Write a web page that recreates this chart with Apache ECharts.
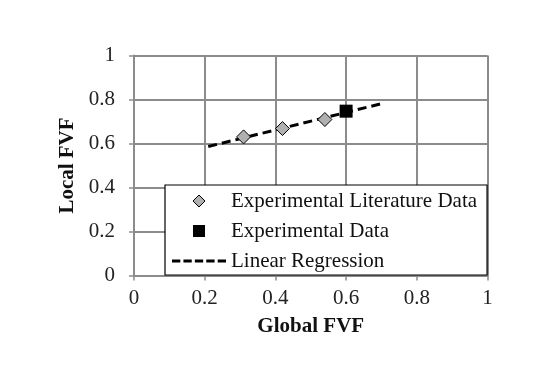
<!DOCTYPE html>
<html>
<head>
<meta charset="utf-8">
<script src="https://cdn.jsdelivr.net/npm/echarts@6/dist/echarts.min.js"></script>
<style>html,body{margin:0;padding:0;background:#fff}#c{width:556px;height:374px}</style>
</head>
<body>
<div id="c"></div>
<script>
// Data
const literatureX = [0.31, 0.42, 0.54];
const literatureY = [0.63, 0.668, 0.709];
const experimentalX = [0.60];
const experimentalY = [0.747];
const regressionX = [0.21, 0.70];
const regressionY = [0.586, 0.781];
const xTicks = [0, 0.2, 0.4, 0.6, 0.8, 1];
const yTicks = [0, 0.2, 0.4, 0.6, 0.8, 1];
const seriesNames = ['Experimental Literature Data', 'Experimental Data', 'Linear Regression'];

const pair = (xs, ys) => xs.map((x, i) => [x, ys[i]]);
const FONT = '"Liberation Serif", "Times New Roman", serif';
const GRID = '#8c8c8c';

const ICON_DIAMOND = 'path://M6,0L12,6L6,12L0,6Z';
const ICON_SQUARE = 'path://M0,0H12V12H0Z';
const ICON_DASH = 'path://M0,0H8V3H0Z M11,0H19V3H11Z M22,0H30V3H22Z M33,0H41V3H33Z M44,0H52V3H44Z';

const chart = echarts.init(document.getElementById('c'), null, {renderer: 'canvas'});
chart.setOption({
  animation: false,
  backgroundColor: '#fff',
  grid: {left: 134, right: 68.5, top: 55.5, bottom: 98.5, containLabel: false},
  xAxis: {
    type: 'value', min: xTicks[0], max: xTicks[xTicks.length - 1], interval: 0.2,
    name: 'Global FVF', nameLocation: 'middle', nameGap: 41,
    nameTextStyle: {fontFamily: FONT, fontWeight: 'bold', fontSize: 21, color: '#111'},
    axisLine: {show: true, lineStyle: {color: GRID, width: 2}},
    axisTick: {show: true, inside: false, length: 5, lineStyle: {color: GRID, width: 1.5}},
    axisLabel: {fontFamily: FONT, fontSize: 21, color: '#222', margin: 12},
    splitLine: {show: true, lineStyle: {color: GRID, width: 2}}
  },
  yAxis: {
    type: 'value', min: yTicks[0], max: yTicks[yTicks.length - 1], interval: 0.2,
    name: 'Local FVF', nameLocation: 'middle', nameGap: 56, nameRotate: 90,
    nameTextStyle: {fontFamily: FONT, fontWeight: 'bold', fontSize: 21, color: '#111'},
    axisLine: {show: true, lineStyle: {color: GRID, width: 2}},
    axisTick: {show: true, inside: false, length: 5, lineStyle: {color: GRID, width: 1.5}},
    axisLabel: {fontFamily: FONT, fontSize: 21, color: '#222', margin: 19},
    splitLine: {show: true, lineStyle: {color: GRID, width: 2}}
  },
  legend: {
    orient: 'vertical',
    left: 165, top: 185,
    padding: [4, 10, 2, 7],
    itemWidth: 54, itemHeight: 12, itemGap: 6,
    symbolKeepAspect: true,
    selectedMode: false,
    backgroundColor: '#fff', borderColor: '#000', borderWidth: 1.2,
    textStyle: {fontFamily: FONT, fontSize: 21, color: '#111', lineHeight: 24},
    data: [
      {name: seriesNames[0], icon: ICON_DIAMOND, itemStyle: {color: '#b0b0b0', borderColor: '#000', borderWidth: 1}},
      {name: seriesNames[1], icon: ICON_SQUARE, itemStyle: {color: '#000', borderWidth: 0}},
      {name: seriesNames[2], icon: ICON_DASH, itemStyle: {color: '#000', borderWidth: 0}}
    ]
  },
  series: [
    {
      name: seriesNames[2], type: 'line', data: pair(regressionX, regressionY),
      symbol: 'none', z: 2,
      lineStyle: {color: '#000', width: 3, type: [9, 5]},
      itemStyle: {color: '#000'}
    },
    {
      name: seriesNames[0], type: 'scatter', data: pair(literatureX, literatureY),
      symbol: 'diamond', symbolSize: 14, z: 3,
      itemStyle: {color: '#b0b0b0', borderColor: '#000', borderWidth: 1, opacity: 1}
    },
    {
      name: seriesNames[1], type: 'scatter', data: pair(experimentalX, experimentalY),
      symbol: 'rect', symbolSize: 13, z: 4,
      itemStyle: {color: '#000', opacity: 1}
    }
  ]
});
</script>
</body>
</html>
